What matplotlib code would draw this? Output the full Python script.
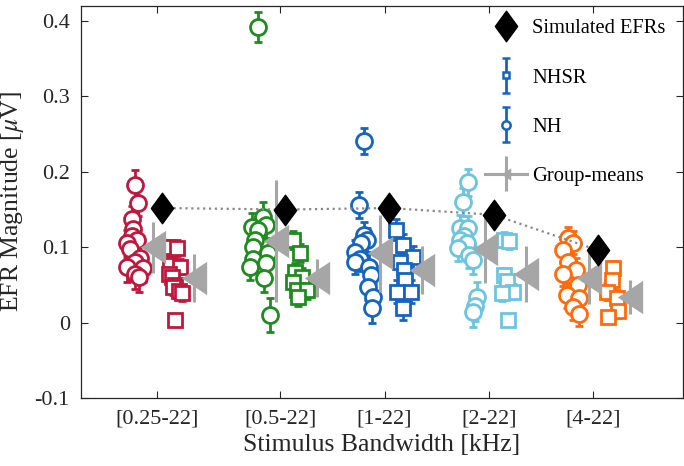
import numpy as np
import matplotlib
matplotlib.use('Agg')
import matplotlib.pyplot as plt
from matplotlib.path import Path
from matplotlib.lines import Line2D
from matplotlib.container import ErrorbarContainer
from matplotlib.legend_handler import HandlerErrorbar

plt.rcParams['font.family'] = ['Liberation Serif', 'DejaVu Serif']
plt.rcParams['mathtext.fontset'] = 'stix'
plt.rcParams['axes.unicode_minus'] = False

#%% data
bands = ['[0.25-22]', '[0.5-22]', '[1-22]', '[2-22]', '[4-22]']
band_pos = [0.82, 2.0, 3.0, 4.0, 5.0]

# NH individual EFR magnitudes (uV), their error bars and horizontal jitter (x units)
nh_vals = [
    [0.182, 0.159, 0.137, 0.124, 0.115, 0.110, 0.105, 0.098, 0.086, 0.080, 0.074, 0.072, 0.065, 0.061],
    [0.392, 0.140, 0.130, 0.127, 0.123, 0.110, 0.100, 0.092, 0.085, 0.079, 0.074, 0.059, 0.010],
    [0.241, 0.156, 0.116, 0.110, 0.105, 0.094, 0.085, 0.080, 0.074, 0.063, 0.047, 0.034, 0.019],
    [0.186, 0.160, 0.125, 0.125, 0.115, 0.110, 0.105, 0.099, 0.090, 0.083, 0.034, 0.022, 0.014],
    [0.112, 0.106, 0.096, 0.081, 0.070, 0.065, 0.050, 0.036, 0.033, 0.021, 0.012],
]
nh_err = [
    [0.020, 0.018, 0.018, 0.018, 0.017, 0.017, 0.018, 0.017, 0.018, 0.018, 0.020, 0.018, 0.020, 0.020],
    [0.020, 0.020, 0.018, 0.018, 0.017, 0.017, 0.018, 0.017, 0.018, 0.018, 0.017, 0.018, 0.022],
    [0.017, 0.017, 0.017, 0.016, 0.016, 0.016, 0.017, 0.016, 0.017, 0.018, 0.017, 0.018, 0.020],
    [0.018, 0.018, 0.018, 0.017, 0.017, 0.017, 0.017, 0.017, 0.018, 0.018, 0.020, 0.020, 0.020],
    [0.015, 0.015, 0.015, 0.015, 0.016, 0.016, 0.016, 0.016, 0.017, 0.017, 0.017],
]
nh_jit = [
    [-0.21, -0.18, -0.24, -0.23, -0.24, -0.19, -0.29, -0.26, -0.16, -0.21, -0.29, -0.14, -0.21, -0.17],
    [-0.21, -0.17, -0.14, -0.27, -0.21, -0.24, -0.26, -0.12, -0.26, -0.14, -0.29, -0.16, -0.10],
    [-0.20, -0.25, -0.20, -0.17, -0.23, -0.28, -0.24, -0.28, -0.15, -0.13, -0.16, -0.11, -0.12],
    [-0.20, -0.25, -0.28, -0.20, -0.24, -0.28, -0.21, -0.30, -0.19, -0.15, -0.11, -0.13, -0.15],
    [-0.24, -0.19, -0.29, -0.24, -0.17, -0.29, -0.15, -0.25, -0.14, -0.19, -0.14],
]

# NHSR individual EFR magnitudes
nhsr_vals = [
    [0.100, 0.099, 0.077, 0.074, 0.065, 0.061, 0.050, 0.047, 0.042, 0.039, 0.003],
    [0.110, 0.092, 0.067, 0.060, 0.054, 0.043, 0.043, 0.034],
    [0.123, 0.103, 0.087, 0.080, 0.070, 0.056, 0.041, 0.041, 0.019],
    [0.110, 0.108, 0.063, 0.055, 0.041, 0.039, 0.004],
    [0.072, 0.057, 0.041, 0.033, 0.016, 0.007],
]
nhsr_err = [
    [0.010, 0.011, 0.010, 0.010, 0.011, 0.010, 0.010, 0.011, 0.010, 0.010, 0.008],
    [0.012, 0.012, 0.012, 0.013, 0.012, 0.012, 0.012, 0.012],
    [0.014, 0.014, 0.014, 0.014, 0.015, 0.015, 0.015, 0.015, 0.016],
    [0.010, 0.010, 0.010, 0.011, 0.010, 0.011, 0.008],
    [0.010, 0.010, 0.011, 0.010, 0.010, 0.008],
]
nhsr_jit = [
    [0.10, 0.19, 0.12, 0.22, 0.11, 0.14, 0.17, 0.15, 0.21, 0.24, 0.17],
    [0.12, 0.19, 0.14, 0.21, 0.12, 0.16, 0.26, 0.17],
    [0.11, 0.18, 0.27, 0.15, 0.19, 0.20, 0.12, 0.25, 0.18],
    [0.14, 0.19, 0.14, 0.17, 0.23, 0.13, 0.18],
    [0.19, 0.18, 0.13, 0.23, 0.24, 0.14],
]

# group means +- std
nh_mean = [0.100, 0.108, 0.092, 0.097, 0.059]
nh_mean_err = [0.034, 0.081, 0.051, 0.045, 0.035]
nhsr_mean = [0.059, 0.059, 0.070, 0.064, 0.034]
nhsr_mean_err = [0.032, 0.025, 0.032, 0.037, 0.022]

# model simulations
sim_efr = [0.152, 0.150, 0.152, 0.143, 0.096]

colors = ['#C0183C', '#1E8C1E', '#1565C0', '#6CC5E0', '#FF6A0A']
grey = '#A6A6A6'

#%% markers
diamond = Path([(0, 1), (0.73, 0), (0, -1), (-0.73, 0), (0, 1)],
               [Path.MOVETO, Path.LINETO, Path.LINETO, Path.LINETO, Path.CLOSEPOLY])
tri_left = Path([(-0.76, 0), (0.76, 1), (0.76, -1), (-0.76, 0)],
                [Path.MOVETO, Path.LINETO, Path.LINETO, Path.CLOSEPOLY])

#%% plot
fig = plt.figure(figsize=(6.84, 4.66), dpi=100)
ax = fig.add_axes([0.1184, 0.146, 0.8801, 0.8411])

for k in range(len(bands)):
    c = colors[k]
    xnh = band_pos[k] + np.asarray(nh_jit[k])
    ax.errorbar(xnh, nh_vals[k], yerr=nh_err[k], fmt='o', color=c, mfc='w', mec=c,
                ms=11.5, mew=2.0, elinewidth=2.0, capsize=3, capthick=2.0, zorder=2)
    xsr = band_pos[k] + np.asarray(nhsr_jit[k])
    ax.errorbar(xsr, nhsr_vals[k], yerr=nhsr_err[k], fmt='s', color=c, mfc='w', mec=c,
                ms=9.5, mew=2.0, elinewidth=2.0, capsize=3, capthick=2.0, zorder=2)

x_nhm = np.asarray(band_pos) - 0.04
x_srm = np.asarray(band_pos) + 0.355
for k in range(len(bands)):
    ax.errorbar(x_nhm[k], nh_mean[k], yerr=nh_mean_err[k], fmt='-', marker=tri_left,
                color=grey, ms=24, mew=0, elinewidth=2.2, capsize=3.5, capthick=2.2, zorder=3)
    ax.errorbar(x_srm[k], nhsr_mean[k], yerr=nhsr_mean_err[k], fmt='-', marker=tri_left,
                color=grey, ms=24, mew=0, elinewidth=2.2, capsize=3.5, capthick=2.2, zorder=3)

x_sim = np.asarray(band_pos) + 0.045
ax.plot(x_sim, sim_efr, ls=':', color='#888888', lw=1.6, zorder=4)
ax.plot(x_sim, sim_efr, ls='none', marker=diamond, color='k', ms=22, zorder=5)

ax.set_xlim(0.09, 5.86)
ax.set_ylim(-0.1, 0.42)
ax.set_xticks(band_pos)
ax.set_xticklabels(bands, fontsize=16)
yt = [-0.1, 0, 0.1, 0.2, 0.3, 0.4]
ax.set_yticks(yt)
ax.set_yticklabels(['-0.1', '0', '0.1', '0.2', '0.3', '0.4'], fontsize=16)
ax.tick_params(direction='in', top=True, right=True, length=5, width=0.8,
               colors='#262626', pad=8)
for s in ax.spines.values():
    s.set_color('#262626')
    s.set_linewidth(0.9)
ax.set_xlabel('Stimulus Bandwidth [kHz]', fontsize=18.5, color='#262626', labelpad=4)
ax.set_ylabel(r'EFR Magnitude [$\mu$V]', fontsize=18.5, color='#262626', labelpad=6)

# legend proxies
h_sim = Line2D([], [], ls='none', marker=diamond, color='k', ms=22)
h_sr = ax.errorbar([np.nan], [np.nan], yerr=[0.01], fmt='s', color=colors[2], mfc='w',
                   ms=5, mew=1.8, elinewidth=2.0, capsize=3, capthick=2.0)
h_nh = ax.errorbar([np.nan], [np.nan], yerr=[0.01], fmt='o', color=colors[2], mfc='w',
                   ms=6, mew=1.8, elinewidth=2.0, capsize=3, capthick=2.0)
h_gm = ax.errorbar([np.nan], [np.nan], yerr=[0.01], fmt='-', marker=tri_left, color=grey,
                   ms=9, mew=0, lw=2.2, elinewidth=2.2, capsize=3.5, capthick=2.2)
leg = ax.legend([h_sim, h_sr, h_nh, h_gm], ['Simulated EFRs', 'NHSR', 'NH', 'Group-means'],
                loc='upper right', bbox_to_anchor=(0.988, 0.993), frameon=False, fontsize=14.8,
                labelspacing=1.45, handlelength=2.05, handletextpad=0.25, borderaxespad=0.1,
                handler_map={ErrorbarContainer: HandlerErrorbar(xerr_size=0.85)})

fig.savefig('out.png', dpi=100)
